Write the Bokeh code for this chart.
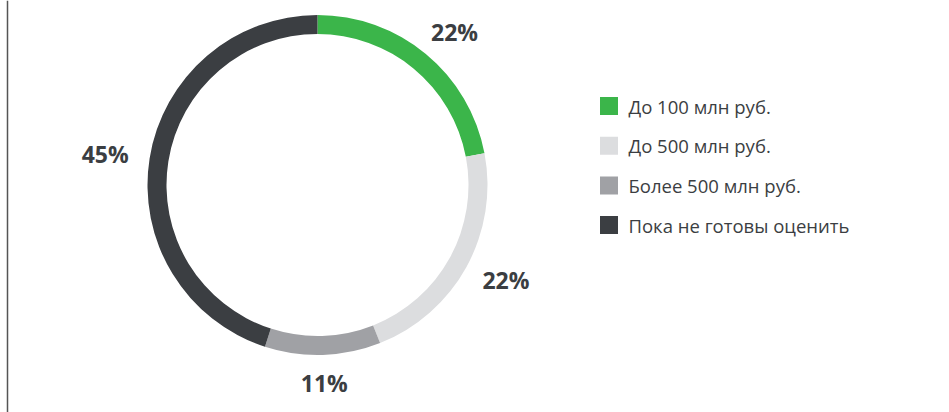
import math
from bokeh.plotting import figure
from bokeh.models import Range1d, ColumnDataSource
from bokeh.core.properties import value
from bokeh.embed import file_html
from bokeh.resources import INLINE

categories = ["До 100 млн руб.", "До 500 млн руб.", "Более 500 млн руб.", "Пока не готовы оценить"]
shares = [22, 22, 11, 45]
labels = ["22%", "22%", "11%", "45%"]
colors = ["#3bb54a", "#dcdddf", "#a0a1a5", "#3b3e42"]

W, H = 949, 412
p = figure(width=W, height=H, output_backend="svg", toolbar_location=None,
           x_range=Range1d(0, W), y_range=Range1d(0, H), min_border=0)
p.axis.visible = False
p.grid.visible = False
p.outline_line_color = None
p.background_fill_color = "white"

cx, cy = 317, H - 184.5
r_out, r_in = 170, 151
R_lab, half_w, half_h = 189, 26, 9
total = sum(shares)
starts, ends, lx, ly = [], [], [], []
cum = 0.0
for s in shares:
    a0 = math.pi / 2 - 2 * math.pi * cum / total
    a1 = math.pi / 2 - 2 * math.pi * (cum + s) / total
    starts.append(a0)
    ends.append(a1)
    mid = (a0 + a1) / 2
    dx, dy = math.cos(mid), math.sin(mid)
    lx.append(cx + (R_lab + half_w) * dx)
    ly.append(cy + (R_lab + half_h) * dy)
    cum += s

src = ColumnDataSource(dict(start=starts, end=ends, color=colors, lx=lx, ly=ly, label=labels))
p.annular_wedge(x=cx, y=cy, inner_radius=r_in, outer_radius=r_out, start_angle="start",
                end_angle="end", direction="clock", fill_color="color", line_color=None, source=src)
p.text(x="lx", y="ly", text="label", source=src, text_align="center", text_baseline="middle",
       text_font=value("Open Sans"), text_font_style="bold", text_font_size="23px",
       text_color="#3b3e42")

# legend
lg_y = [H - 105.5 - i * 39.7 for i in range(len(categories))]
lg_src = ColumnDataSource(dict(y=lg_y, color=colors, cat=categories))
p.rect(x=608.5, y="y", width=18, height=18, width_units="screen", height_units="screen",
       fill_color="color", line_color=None, source=lg_src)
p.text(x=628, y="y", text="cat", source=lg_src, text_align="left", text_baseline="middle",
       text_font=value("Open Sans"), text_font_size="18.5px", text_color="#3b3e42")

# left border line
p.segment(x0=7, y0=0, x1=7, y1=H, line_color="#555555", line_width=1.5)

open("out.html", "w").write(file_html(p, INLINE))
